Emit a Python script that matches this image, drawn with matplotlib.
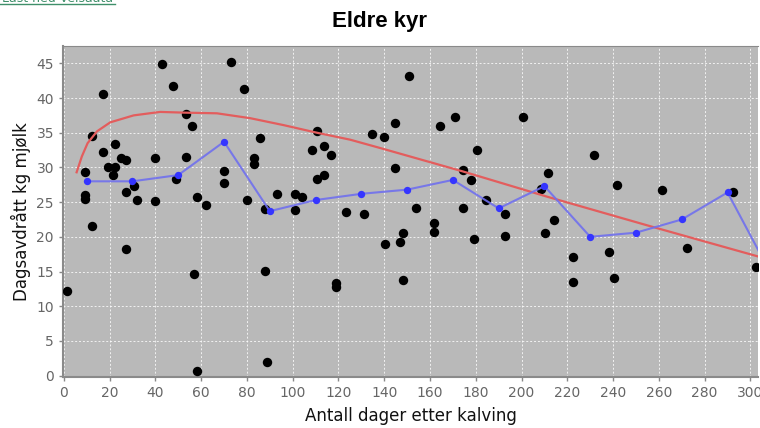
import matplotlib.pyplot as plt
from matplotlib.lines import Line2D

# scatter: daily milk yield per cow (days after calving, kg)
dager = [1.4, 9.1, 9.1, 9.1, 12.3, 12.4, 17.2, 17.2, 19.3, 21.5, 22.5, 22.5, 25.0, 27.2, 27.2,
         27.2, 30.5, 32.0, 40.0, 40.0, 43.1, 47.9, 49.0, 53.4, 53.4, 56.0, 57.0, 58.2, 58.2,
         62.1, 69.8, 69.8, 73.0, 78.8, 80.0, 83.2, 83.2, 85.8, 88.0, 88.0, 88.9, 93.1, 101.0,
         101.0, 104.0, 108.5, 110.7, 110.8, 113.6, 113.9, 116.7, 118.9, 118.9, 123.2, 131.0,
         134.6, 140.0, 140.4, 144.8, 144.8, 146.9, 148.4, 148.4, 150.7, 153.8, 161.9, 161.9,
         164.5, 171.0, 174.6, 174.6, 177.8, 179.4, 180.4, 184.6, 192.8, 192.7, 200.7, 208.5,
         210.3, 211.4, 214.3, 222.4, 222.4, 231.5, 238.2, 240.5, 241.6, 261.4, 272.4, 292.2,
         302.3]
kg = [12.2, 29.4, 26.0, 25.5, 21.5, 34.6, 40.6, 32.2, 30.1, 28.9, 33.4, 30.1, 31.3, 31.1, 26.4,
      18.3, 27.3, 25.3, 31.3, 25.1, 44.9, 41.8, 28.3, 37.7, 31.5, 36.0, 14.6, 25.7, 0.6,
      24.6, 29.5, 27.8, 45.2, 41.3, 25.3, 31.3, 30.5, 34.2, 24.0, 15.1, 2.0, 26.2, 26.1,
      23.8, 25.7, 32.5, 28.3, 35.3, 33.1, 28.9, 31.8, 13.3, 12.8, 23.6, 23.3,
      34.8, 34.4, 19.0, 36.4, 29.9, 19.2, 20.5, 13.8, 43.2, 24.1, 22.0, 20.7,
      35.9, 37.3, 29.7, 24.1, 28.2, 19.7, 32.5, 25.3, 23.3, 20.1, 37.3, 26.9,
      20.6, 29.2, 22.4, 17.1, 13.5, 31.8, 17.8, 14.0, 27.5, 26.8, 18.4, 26.4,
      15.6]

# 20-day averages (blue)
snitt_dag = [10, 30, 50, 70, 90, 110, 130, 150, 170, 190, 210, 230, 250, 270, 290, 310]
snitt_kg = [28.0, 28.0, 28.9, 33.7, 23.7, 25.3, 26.2, 26.8, 28.2, 24.1, 27.3, 20.0, 20.6, 22.5, 26.4, 14.0]

# reference lactation curve (red)
kurve_dag = [5.6, 7.9, 10.4, 14.5, 20.3, 30.5, 42.1, 52.3, 66.9, 81.4, 96, 110.6, 125.1,
             138.2, 174.6, 211.0, 257.6, 304.1]
kurve_kg = [29.3, 31.6, 33.5, 35.2, 36.5, 37.5, 38.0, 37.9, 37.8, 37.1, 36.1, 35.0, 34.0,
            32.8, 29.4, 25.8, 21.4, 17.1]

fig = plt.figure(figsize=(7.6, 4.28), dpi=100)
ax = fig.add_axes([63 / 760, 1 - 377 / 428, 695 / 760, 331 / 428])
ax.set_facecolor('#b9b9b9')

ax.scatter(dager, kg, s=46, color='black', zorder=3, linewidths=0)
ax.plot(kurve_dag, kurve_kg, color='#e35d5d', lw=1.6, zorder=4)
ax.plot(snitt_dag, snitt_kg, color='#7070ee', lw=1.5, alpha=0.9, zorder=5)
ax.scatter(snitt_dag, snitt_kg, s=28, color='#3535ff', zorder=6, linewidths=0)

ax.set_xlim(-0.35, 303.3)
ax.set_ylim(-0.2, 47.5)
ax.set_xticks(range(0, 301, 20))
ax.set_yticks(range(0, 46, 5))
ax.grid(True, color='white', linestyle=(0, (2, 2)), lw=0.7, alpha=0.8)
ax.set_axisbelow(True)

ax.tick_params(labelsize=10, labelcolor='#666666', color='#888888', length=3, width=1)
ax.spines['right'].set_visible(False)
ax.spines['top'].set_color('#8a8a8a')
ax.spines['left'].set_color('#8a8a8a')
ax.spines['bottom'].set_color('#8a8a8a')
ax.spines['bottom'].set_linewidth(1.5)
ax.spines['left'].set_linewidth(1.5)

ax.set_xlabel('Antall dager etter kalving', fontsize=12, color='#111111', labelpad=5)
ax.set_ylabel('Dagsavdrått kg mjølk', fontsize=12, color='#111111', labelpad=4)

fig.text(0.5, 1 - 21 / 428, 'Eldre kyr', ha='center', va='center',
         fontsize=16, fontweight='bold', family='Liberation Sans')

# link at the top-left corner, mostly cut off by the page edge
fig.text(0.002, 1 - 1.5 / 428, 'Last ned Velsaata', color='#3f8f6a', fontsize=9, va='baseline')
fig.add_artist(Line2D([0, 115 / 760], [1 - 4 / 428, 1 - 4 / 428], color='#3f8f6a', lw=1))

plt.savefig('out.png', dpi=100)
